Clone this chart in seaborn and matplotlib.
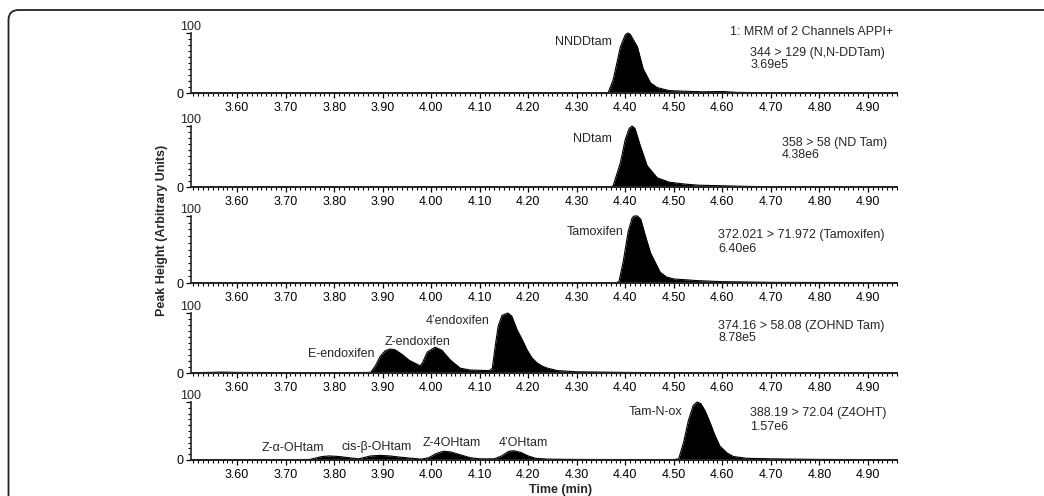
import matplotlib
matplotlib.use("Agg")
import matplotlib.pyplot as plt
import matplotlib.ticker as mticker
from matplotlib.patches import FancyBboxPatch
import seaborn as sns
import pandas as pd

# chromatogram traces: time (min), relative height (%)
nnddtam_t = [3.505, 3.70, 4.20, 4.30, 4.36, 4.365, 4.375, 4.39, 4.40, 4.405, 4.41, 4.425,
             4.437, 4.452, 4.466, 4.49, 4.52, 4.56, 4.60, 4.63, 4.70, 4.96]
nnddtam_h = [0.5, 0.5, 0.8, 0.5, 0.5, 1, 22, 77, 97, 100, 98, 77,
             40, 17, 9, 4, 3, 2, 2.5, 1, 0.5, 0.5]

ndtam_t = [3.505, 4.37, 4.375, 4.39, 4.40, 4.408, 4.414, 4.42, 4.43, 4.445, 4.466, 4.49,
           4.52, 4.55, 4.60, 4.65, 4.70, 4.96]
ndtam_h = [0.3, 0.3, 2, 40, 78, 96, 100, 96, 70, 35, 15, 8,
           5, 3, 2, 1, 0.5, 0.3]

tam_t = [3.505, 4.38, 4.387, 4.396, 4.406, 4.414, 4.418, 4.425, 4.432, 4.44, 4.452, 4.472,
         4.485, 4.50, 4.55, 4.60, 4.70, 4.96]
tam_h = [0.3, 0.3, 2, 33, 77, 97, 100, 100, 95, 74, 45, 16,
         9, 6, 3.5, 2, 1, 0.5]

endox_t = [3.505, 3.54, 3.57, 3.60, 3.70, 3.80, 3.875, 3.885, 3.895, 3.905, 3.915, 3.925,
           3.94, 3.955, 3.97, 3.977, 3.982, 3.992, 4.008, 4.022, 4.039, 4.06, 4.08, 4.12,
           4.126, 4.132, 4.138, 4.146, 4.158, 4.166, 4.177, 4.188, 4.198, 4.208, 4.218,
           4.23, 4.24, 4.26, 4.30, 4.35, 4.40, 4.50, 4.96]
endox_h = [0.5, 1, 1.5, 1, 0.7, 0.5, 1, 12, 28, 37, 40, 39,
           31, 21, 15, 12, 17, 35, 43, 38, 22, 8, 5, 4,
           8, 45, 78, 96, 100, 95, 72, 55, 38, 25, 17,
           11, 8, 4, 2, 1.5, 1, 0.5, 0.3]

ohtam_t = [3.505, 3.70, 3.75, 3.76, 3.775, 3.79, 3.81, 3.83, 3.85, 3.86, 3.875, 3.895,
           3.915, 3.935, 3.96, 3.98, 3.995, 4.01, 4.025, 4.04, 4.06, 4.08, 4.10, 4.13,
           4.145, 4.16, 4.17, 4.185, 4.20, 4.215, 4.24, 4.30, 4.40, 4.50, 4.51, 4.52,
           4.53, 4.54, 4.548, 4.556, 4.565, 4.575, 4.585, 4.595, 4.61, 4.623, 4.65, 4.70,
           4.80, 4.96]
ohtam_h = [0.5, 0.5, 1, 3, 6, 7, 6, 4, 2, 4, 7, 8,
           7, 5, 3, 1.5, 4, 11, 15, 14, 9, 4, 2, 2,
           7, 15, 16, 13, 7, 3, 1.5, 1, 0.8, 0.8, 2, 30,
           68, 94, 100, 97, 84, 64, 42, 24, 12, 6, 3, 2,
           1, 0.5]

channel_lines = [
    ("344 > 129 (N,N-DDTam)", "3.69e5"),
    ("358 > 58 (ND Tam)", "4.38e6"),
    ("372.021 > 71.972 (Tamoxifen)", "6.40e6"),
    ("374.16 > 58.08 (ZOHND Tam)", "8.78e5"),
    ("388.19 > 72.04 (Z4OHT)", "1.57e6"),
]
channel_pos = [(4.658, 66, 46), (4.722, 72, 52), (4.592, 72, 50), (4.592, 78, 58), (4.658, 81, 57)]

peak_labels = [
    [("NNDDtam", 4.373, 85, "right")],
    [("NDtam", 4.373, 79, "right")],
    [("Tamoxifen", 4.396, 76, "right")],
    [("E-endoxifen", 3.814, 32, "center"), ("Z-endoxifen", 3.971, 52, "center"),
     ("4’endoxifen", 4.054, 87, "center")],
    [("Z-α-OHtam", 3.715, 21, "center"), ("cis-β-OHtam", 3.887, 22, "center"),
     ("Z-4OHtam", 4.043, 29, "center"), ("4’OHtam", 4.19, 29, "center"),
     ("Tam-N-ox", 4.462, 83, "center")],
]

traces = [(nnddtam_t, nnddtam_h), (ndtam_t, ndtam_h), (tam_t, tam_h),
          (endox_t, endox_h), (ohtam_t, ohtam_h)]
major_ticks = [3.60, 3.70, 3.80, 3.90, 4.00, 4.10, 4.20, 4.30, 4.40, 4.50, 4.60, 4.70, 4.80, 4.90]

sns.set_theme(style="ticks")
plt.rcParams["font.family"] = ["Liberation Sans", "DejaVu Sans"]

W, H = 1044, 496
fig = plt.figure(figsize=(W / 100, H / 100), dpi=100)
fig.patch.set_facecolor("white")

# panel top / baseline in pixel rows
panel_px = [(33, 93), (126, 187), (216, 283), (313, 373), (402, 460)]
left, right = 191, 897

for i, ((top, base), (t, h)) in enumerate(zip(panel_px, traces)):
    ax = fig.add_axes([left / W, 1 - base / H, (right - left) / W, (base - top) / H])
    ax.set_facecolor("none")
    df = pd.DataFrame({"t": t, "h": h})
    ax.fill_between(df["t"], 0, df["h"], color="black", lw=0, clip_on=False)
    sns.lineplot(data=df, x="t", y="h", ax=ax, color="black", lw=0.8,
                 estimator=None, sort=False, clip_on=False)
    ax.set_xlim(3.505, 4.96)
    ax.set_ylim(0, 100)
    ax.set_xlabel("")
    ax.set_ylabel("")
    sns.despine(ax=ax)
    ax.spines["left"].set_linewidth(1.2)
    ax.spines["bottom"].set_linewidth(1.4)
    ax.xaxis.set_major_locator(mticker.FixedLocator(major_ticks))
    ax.xaxis.set_major_formatter(mticker.FormatStrFormatter("%.2f"))
    ax.xaxis.set_minor_locator(mticker.MultipleLocator(0.01))
    ax.set_yticks([0, 100])
    ax.set_yticklabels(["0", ""])
    ax.yaxis.set_minor_locator(mticker.MultipleLocator(10))
    ax.tick_params(axis="both", which="major", length=3.5, width=0.9, labelsize=9,
                   color="black", labelcolor="black", pad=2)
    ax.tick_params(axis="x", which="major", pad=3)
    ax.tick_params(axis="both", which="minor", length=2, width=0.8, color="black")
    ax.annotate("100", xy=(0, 100), xycoords=("axes fraction", "data"),
                xytext=(0, 4.3), textcoords="offset points",
                ha="center", va="center", fontsize=9)

    for name, x, y, ha in peak_labels[i]:
        ax.text(x, y, name, ha=ha, va="center", fontsize=9)
    line1, line2 = channel_lines[i]
    cx, cy1, cy2 = channel_pos[i]
    ax.text(cx, cy1, line1, ha="left", va="center", fontsize=9)
    ax.text(cx, cy2, line2, ha="left", va="center", fontsize=9)
    if i == 0:
        ax.text(4.952, 102, "1: MRM of 2 Channels APPI+", ha="right", va="center", fontsize=9)

fig.text(162 / W, 1 - 230 / H, "Peak Height (Arbitrary Units)", rotation=90,
         ha="center", va="center", fontsize=9, fontweight="bold")
fig.text(561 / W, 1 - 490 / H, "Time (min)", ha="center", va="center",
         fontsize=9, fontweight="bold")

# outer frame, right and bottom edges fall outside the picture
frame = FancyBboxPatch((0.085, -0.6), 11.0, 4.96 - 0.10 + 0.6,
                       boxstyle="round,pad=0,rounding_size=0.1",
                       transform=fig.dpi_scale_trans, fill=False,
                       edgecolor="#222222", lw=1.3)
fig.add_artist(frame)

fig.savefig("out.png", dpi=100)
